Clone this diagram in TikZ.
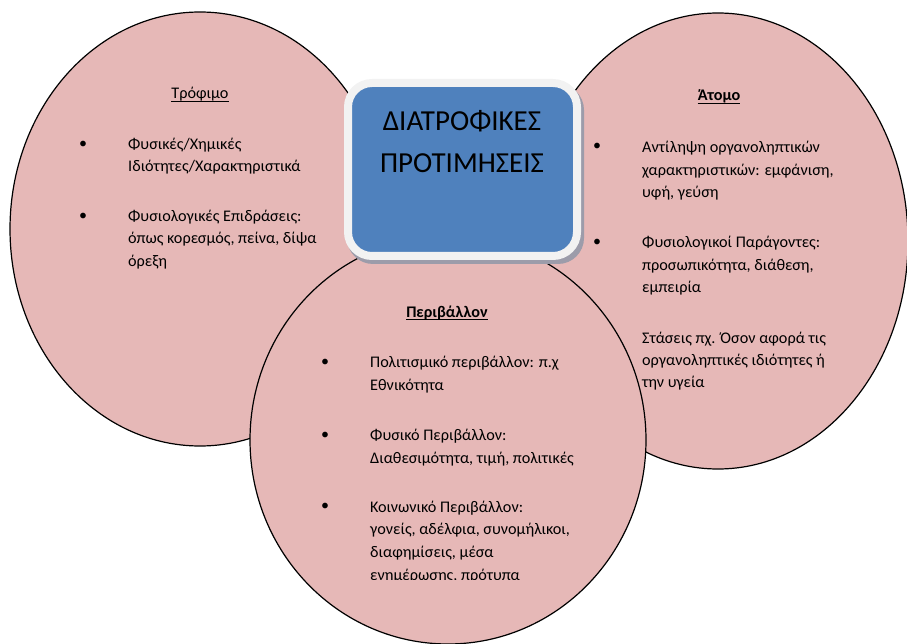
\documentclass[tikz,border=0pt]{standalone}
\usepackage{fontspec}
\setmainfont{Carlito}
\usetikzlibrary{shapes.geometric}
\definecolor{pinkfill}{HTML}{E6B8B7}
\definecolor{boxblue}{HTML}{4F81BD}
\definecolor{boxrim}{HTML}{F2F2F2}
\definecolor{boxshadow}{HTML}{9C9CAA}
\begin{document}
\begin{tikzpicture}[x=1pt,y=-1pt,
  blob/.style={ellipse, draw=black, line width=1.2pt, fill=pinkfill, inner sep=0pt},
  txt/.style={anchor=base west, inner sep=0pt, font=\fontsize{16.2}{19}\selectfont},
  head/.style={anchor=base, inner sep=0pt, font=\fontsize{16.2}{19}\selectfont},
  boldhead/.style={head, font=\fontsize{16.2}{19}\selectfont\bfseries},
  bul/.style={inner sep=0pt, font=\fontsize{16}{19}\selectfont},
  ttl/.style={anchor=base, inner sep=0pt, font=\fontsize{29}{33}\selectfont},
  uline/.style={line width=0.9pt}]
\useasboundingbox (0,0) rectangle (907,644);
% ellipses
\node[blob, minimum width=380pt, minimum height=434pt] (food) at (200,229) {};
\node[blob, minimum width=380pt, minimum height=456pt] (person) at (718,241) {};
\node[blob, minimum width=396pt, minimum height=408pt] (env) at (448,440) {};
% left texts
\node[head] (hfood) at (200,99) {Τρόφιμο};
\draw[uline] ([yshift=-2.2pt]hfood.base west) -- ([yshift=-2.2pt]hfood.base east);
\node[bul] (bf1) at (83,145) {•};
\node[txt] (f1a) at (128,150) {Φυσικές/Χημικές};
\node[txt] (f1b) at (128,172) {Ιδιότητες/Χαρακτηριστικά};
\node[bul] (bf2) at (83,217) {•};
\node[txt] (f2a) at (128,222) {Φυσιολογικές Επιδράσεις:};
\node[txt] (f2b) at (128,244) {όπως κορεσμός, πείνα, δίψα};
\node[txt] (f2c) at (128,266) {όρεξη};
% right texts
\node[boldhead] (hper) at (719,101) {Άτομο};
\draw[uline] ([yshift=-2.2pt]hper.base west) -- ([yshift=-2.2pt]hper.base east);
\node[bul] (bp1) at (597,147) {•};
\node[txt] (p1a) at (642,153) {Αντίληψη οργανοληπτικών};
\node[txt] (p1b) at (642,175.5) {χαρακτηριστικών: εμφάνιση,};
\node[txt] (p1c) at (642,198) {υφή, γεύση};
\node[bul] (bp2) at (597,243) {•};
\node[txt] (p2a) at (642,248) {Φυσιολογικοί Παράγοντες:};
\node[txt] (p2b) at (642,270) {προσωπικότητα, διάθεση,};
\node[txt] (p2c) at (642,292) {εμπειρία};
\node[txt] (p3a) at (642,343) {Στάσεις πχ. Όσον αφορά τις};
\node[txt] (p3b) at (642,365) {οργανοληπτικές ιδιότητες ή};
\node[txt] (p3c) at (642,387) {την υγεία};
% bottom texts
\node[boldhead] (henv) at (447,317) {Περιβάλλον};
\draw[uline] ([yshift=-2.2pt]henv.base west) -- ([yshift=-2.2pt]henv.base east);
\node[bul] (be1) at (325,363) {•};
\node[txt] (e1a) at (370,367) {Πολιτισμικό περιβάλλον: π.χ};
\node[txt] (e1b) at (370,390) {Εθνικότητα};
\node[bul] (be2) at (325,436) {•};
\node[txt] (e2a) at (370,440) {Φυσικό Περιβάλλον:};
\node[txt] (e2b) at (370,463) {Διαθεσιμότητα, τιμή, πολιτικές};
\node[bul] (be3) at (325,507) {•};
\node[txt] (e3a) at (370,512) {Κοινωνικό Περιβάλλον:};
\node[txt] (e3b) at (370,534.5) {γονείς, αδέλφια, συνομήλικοι,};
\node[txt] (e3c) at (370,557) {διαφημίσεις, μέσα};
\begin{scope}
\clip (300,560) rectangle (640,579.5);
\node[txt] (e3d) at (370,580) {ενημέρωσης, πρότυπα};
\end{scope}
% central box
\fill[boxshadow, rounded corners=26pt] (347,84) rectangle (584,264);
\node[draw=boxrim, line width=8pt, fill=boxblue, rounded corners=24pt,
      minimum width=229pt, minimum height=173pt, inner sep=0pt] (core) at (462.5,169.5) {};
\node[ttl] (t1) at (462,131) {ΔΙΑΤΡΟΦΙΚΕΣ};
\node[ttl] (t2) at (462,173) {ΠΡΟΤΙΜΗΣΕΙΣ};
\end{tikzpicture}
\end{document}
